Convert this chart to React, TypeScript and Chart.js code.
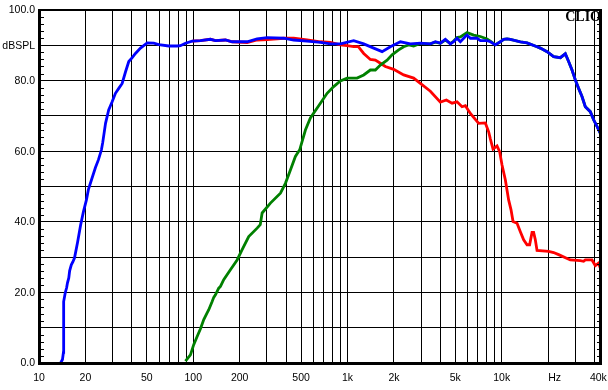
import React, { useEffect, useRef } from "react";
import { Chart, registerables } from "chart.js";

Chart.register(...registerables);

const X_MIN_HZ = 10;
const X_MAX_HZ = 44670;
const Y_MIN_DB = 0;
const Y_MAX_DB = 100;

const xTickHz = [10, 20, 50, 100, 200, 500, 1000, 2000, 5000, 10000, 22000, 42300];
const xTickText = ["10", "20", "50", "100", "200", "500", "1k", "2k", "5k", "10k", "Hz", "40k"];
const yTickDb = [0, 20, 40, 60, 80, 90, 100];
const yTickText = ["0.0", "20.0", "40.0", "60.0", "80.0", "dBSPL", "100.0"];

// Combined response [Hz, dB]
const blueSeries: [number, number][] = [
  [13.8, 0], [14.2, 1], [14.4, 3], [14.45, 17.4], [14.8, 19.9], [15.1, 21.3], [15.3, 22.7],
  [15.6, 24.1], [15.8, 26.1], [16.2, 27.8], [16.6, 28.7], [17.0, 29.8], [17.8, 34.3],
  [18.6, 39.0], [19.4, 42.8], [20.3, 46.2], [20.9, 49.1], [21.9, 51.9], [23.2, 55.3],
  [24.3, 57.6], [25.4, 60.4], [25.9, 62.5], [27.0, 67.9], [28.3, 71.7], [29.8, 74.0],
  [31.3, 76.4], [32.9, 77.8], [34.6, 79.2], [36.4, 82.5], [38.2, 85.4], [40.2, 86.5],
  [42.2, 87.7], [45.5, 89.2], [50.3, 90.7], [55.5, 90.6], [59.8, 90.2], [69.4, 89.8],
  [78.6, 89.8], [82.6, 89.9], [89.0, 90.6], [98.4, 91.2], [111.4, 91.3], [129.3, 91.7],
  [139.3, 91.3], [161.7, 91.5], [178.7, 91.0], [223.6, 91.0], [259.5, 91.8], [301.2, 92.2],
  [385.9, 92.0], [448, 91.5], [547.4, 91.2], [667.4, 90.8], [774.9, 90.4], [899.5, 90.4],
  [1097, 91.3], [1274, 90.4], [1479, 89.2], [1676, 88.2], [1897, 89.6], [2203, 91.0],
  [2557, 90.4], [2968, 90.6], [3446, 90.4], [3713, 91.0], [4000, 90.6], [4310, 91.7],
  [4644, 90.4], [4879, 91.0], [5132, 92.0], [5392, 91.0], [5809, 92.5], [5958, 92.9],
  [6259, 92.0], [6917, 92.0], [7267, 91.3], [8030, 91.3], [8436, 91.0], [9089, 90.1],
  [9793, 91.0], [10287, 91.7], [10822, 91.8], [11368, 91.7], [13202, 91.0], [14588, 90.7],
  [16935, 89.6], [17783, 89.2], [19665, 88.2], [21701, 86.8], [23982, 86.5], [25837, 87.6],
  [27140, 85.4], [28551, 83.0], [29992, 80.2], [31500, 77.8], [33140, 75.5], [34820, 72.6],
  [37520, 71.2], [39410, 68.9], [41460, 67.0], [43550, 65.1], [44670, 64.8],
];

// Tweeter response [Hz, dB]
const greenSeries: [number, number][] = [
  [89.0, 0.5], [95.9, 2.3], [100.7, 5.2], [106.0, 7.5], [111.4, 9.7], [117.0, 12.3],
  [123.0, 14.2], [126.1, 15.1], [132.6, 17.4], [135.8, 18.6], [139.3, 19.3], [146.3, 21.2],
  [150.1, 21.7], [157.6, 23.6], [174.2, 26.4], [192.5, 29.2], [207.5, 32.1], [228.9, 35.8],
  [259.5, 38.2], [272, 39.2], [279.6, 42.5], [316.5, 45.3], [367.5, 48.1], [395.9, 50.9],
  [426.6, 54.7], [459.5, 58.5], [490, 60.4], [533.6, 66.0], [574.8, 69.4], [667.4, 73.6],
  [737.6, 76.4], [813.9, 78.3], [899.5, 79.9], [994, 80.7], [1154, 80.7], [1274, 81.6],
  [1407, 83.0], [1516, 83.0], [1634, 84.4], [1806, 85.8], [1945, 87.3], [2147, 88.7],
  [2313, 89.6], [2492, 90.1], [2685, 89.8], [2968, 90.5], [3446, 90.4], [3713, 90.9],
  [4000, 90.6], [4310, 91.5], [4644, 90.5], [4879, 91.2], [5132, 92.2], [5392, 92.4],
  [5809, 93.3], [5958, 93.6], [6576, 92.9], [7267, 92.5], [8030, 91.8], [8436, 91.2],
  [9089, 90.2], [9793, 91.0], [10287, 91.7], [10822, 91.8], [11368, 91.7], [13202, 91.0],
  [14588, 90.7], [16935, 89.6], [17783, 89.2], [19665, 88.2], [21701, 86.8], [23982, 86.5],
  [25837, 87.6], [27140, 85.4], [28551, 83.0], [29992, 80.2], [31500, 77.8], [33140, 75.5],
  [34820, 72.6], [37520, 71.2], [39410, 68.9], [41460, 67.0], [43550, 65.1], [44670, 64.8],
];

// Woofer response [Hz, dB]
const redSeries: [number, number][] = [
  [98.4, 91.2], [111.4, 91.3], [129.3, 91.7], [139.3, 91.3], [161.7, 91.5], [178.7, 91.0],
  [223.6, 90.8], [259.5, 91.5], [301.2, 91.6], [385.9, 92.0], [448, 92.0], [547.4, 91.5],
  [667.4, 91.0], [774.9, 90.8], [899.5, 90.1], [994, 89.9], [1097, 89.6], [1175, 89.6],
  [1274, 87.7], [1407, 86.0], [1516, 85.8], [1634, 84.9], [1760, 84.0], [1993, 83.2],
  [2313, 81.6], [2685, 80.7], [2968, 79.2], [3446, 77.0], [4000, 73.9], [4375, 74.5],
  [4764, 73.6], [5132, 74.0], [5528, 72.6], [5809, 72.9], [6259, 70.7], [7088, 67.9],
  [7830, 68.0], [8226, 65.5], [8436, 63.5], [8782, 60.6], [9322, 61.5], [9692, 59.9],
  [10044, 56.1], [10551, 51.9], [11084, 46.2], [11489, 43.4], [11836, 40.1], [12568, 39.6],
  [13202, 37.2], [13870, 34.9], [14588, 33.5], [15163, 33.5], [15718, 37.0], [16098, 37.0],
  [16510, 34.9], [16935, 31.9], [20137, 31.6], [21701, 31.3], [23380, 30.7], [27830, 29.2],
  [32310, 29.0], [33950, 28.8], [34820, 29.2], [38480, 29.2], [40430, 27.6], [42460, 28.3],
  [44670, 25.5],
];

const gridHz: number[] = [];
for (const decade of [10, 100, 1000, 10000]) {
  for (let m = 1; m <= 9; m++) {
    const v = m * decade;
    if (v <= 40000) gridHz.push(v);
  }
}

const LABEL_FONT = '10.5px "Liberation Sans", Arial, sans-serif';

const framePlugin = {
  id: "clioFrame",
  afterDraw(chart: any) {
    const { ctx, chartArea } = chart;
    const xs = chart.scales.x;
    const ys = chart.scales.y;
    const L = Math.round(chartArea.left);
    const R = Math.round(chartArea.right);
    const T = Math.round(chartArea.top);
    const B = Math.round(chartArea.bottom);
    ctx.save();
    ctx.strokeStyle = "#000";
    ctx.lineWidth = 1;
    ctx.beginPath();
    for (let v = Y_MIN_DB + 2; v < Y_MAX_DB; v += 2) {
      if (v % 10 === 0) continue;
      const y = Math.round(ys.getPixelForValue(v)) + 0.5;
      ctx.moveTo(L, y);
      ctx.lineTo(L + 5, y);
      ctx.moveTo(R - 5, y);
      ctx.lineTo(R, y);
    }
    ctx.stroke();
    ctx.fillStyle = "#000";
    ctx.fillRect(L - 1, T - 1, 3, B - T + 3);
    ctx.fillRect(R - 3, T - 1, 3, B - T + 3);
    ctx.fillRect(L - 1, T - 1, R - L + 1, 2);
    ctx.fillRect(L - 1, B - 1, R - L + 1, 3);
    ctx.font = LABEL_FONT;
    ctx.textAlign = "right";
    ctx.textBaseline = "middle";
    yTickDb.forEach((v, i) => {
      ctx.fillText(yTickText[i], L - 4, ys.getPixelForValue(v) + 0.5);
    });
    ctx.textAlign = "center";
    xTickHz.forEach((v, i) => {
      ctx.fillText(xTickText[i], xs.getPixelForValue(v), B + 15);
    });
    ctx.font = 'bold 14px "Liberation Serif", "Times New Roman", serif';
    ctx.textAlign = "right";
    ctx.textBaseline = "alphabetic";
    ctx.fillText("CLIO", R - 1, T + 11);
    ctx.restore();
  },
};

const toPoints = (s: [number, number][]) => s.map(([x, y]) => ({ x, y }));

export default function App() {
  const canvasRef = useRef<HTMLCanvasElement | null>(null);

  useEffect(() => {
    const canvas = canvasRef.current;
    if (!canvas) return;
    const common = { pointRadius: 0, borderWidth: 2.8, tension: 0, fill: false };
    const chart = new Chart(canvas, {
      type: "line",
      data: {
        datasets: [
          { label: "Sum", data: toPoints(blueSeries), borderColor: "#0000ff", ...common },
          { label: "Tweeter", data: toPoints(greenSeries), borderColor: "#008000", ...common },
          { label: "Woofer", data: toPoints(redSeries), borderColor: "#ff0000", ...common },
        ],
      },
      options: {
        animation: false,
        responsive: false,
        maintainAspectRatio: false,
        devicePixelRatio: 1,
        layout: { padding: { left: 39, top: 10, right: 6, bottom: 27 } },
        plugins: { legend: { display: false }, tooltip: { enabled: false } },
        scales: {
          x: {
            type: "logarithmic",
            min: X_MIN_HZ,
            max: X_MAX_HZ,
            grid: { color: "#000", lineWidth: 1, drawTicks: false },
            border: { display: false },
            ticks: { display: false },
            afterBuildTicks: (scale: any) => {
              scale.ticks = gridHz.map((v) => ({ value: v }));
            },
          },
          y: {
            type: "linear",
            min: Y_MIN_DB,
            max: Y_MAX_DB,
            grid: { color: "#000", lineWidth: 1, drawTicks: false },
            border: { display: false },
            ticks: { display: false, stepSize: 10 },
          },
        },
      } as any,
      plugins: [framePlugin],
    });
    return () => chart.destroy();
  }, []);

  return (
    <div style={{ position: "fixed", left: 0, top: 0, width: 608, height: 390, background: "#fff" }}>
      <canvas ref={canvasRef} width={608} height={390} style={{ width: 608, height: 390, display: "block" }} />
    </div>
  );
}
